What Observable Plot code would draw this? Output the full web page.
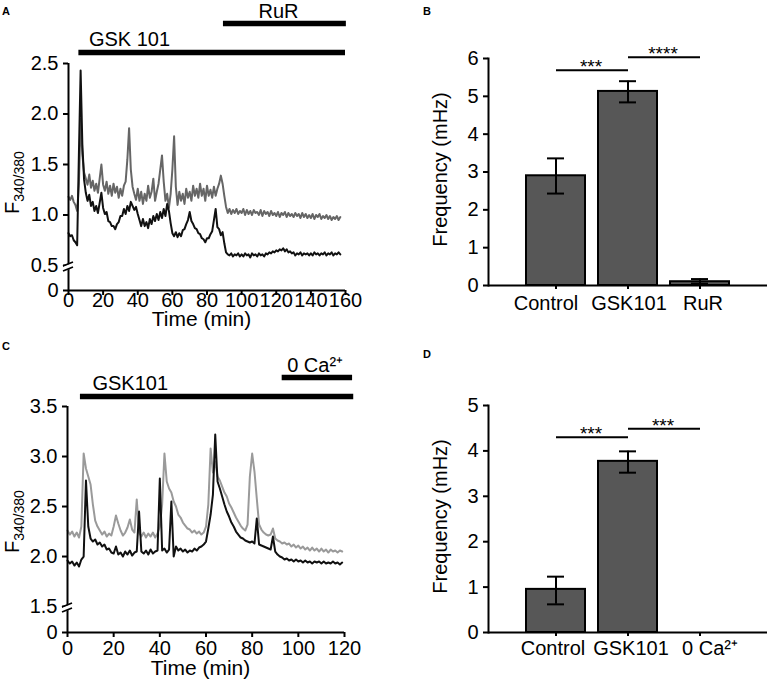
<!DOCTYPE html>
<html><head><meta charset="utf-8">
<script src="https://cdn.jsdelivr.net/npm/d3@7"></script>
<script src="https://cdn.jsdelivr.net/npm/@observablehq/plot@0.6"></script>
<style>
body{margin:0;background:#fff}
#fig{position:relative;width:768px;height:683px;overflow:hidden;background:#fff}
#fig svg{position:absolute;overflow:visible}
</style></head><body><div id="fig"></div>
<script>
const FONT = '"Liberation Sans", Arial, Helvetica, sans-serif';

// ---------- Panel A data ----------
const timeA = [0,1,2,3,4,5,6,7,8,9,10,11,12,13,14,15,16,17,18,19,20,21,22,23,24,25,26,27,28,29,30,31,32,33,34,35,36,37,38,39,40,41,42,43,44,45,46,47,48,49,50,51,52,53,54,55,56,57,58,59,60,61,62,63,64,65,66,67,68,69,70,71,72,73,74,75,76,77,78,79,80,81,82,83,84,85,86,87,88,89,90,91,92,93,94,95,96,97,98,99,100,101,102,103,104,105,106,107,108,109,110,111,112,113,114,115,116,117,118,119,120,121,122,123,124,125,126,127,128,129,130,131,132,133,134,135,136,137,138,139,140,141,142,143,144,145,146,147,148,149,150,151,152,153,154,155,156,157];
const greyA = [1.18,1.15,1.19,1.13,1.10,1.04,1.30,1.95,1.60,1.42,
1.36,1.30,1.40,1.27,1.34,1.24,1.31,1.22,1.36,1.50,
1.30,1.24,1.33,1.21,1.29,1.19,1.31,1.22,1.28,1.17,
1.26,1.19,1.29,1.33,1.55,1.86,1.45,1.28,1.21,1.15,
1.26,1.14,1.23,1.11,1.21,1.14,1.29,1.17,1.23,1.36,
1.14,1.23,1.31,1.45,1.59,1.33,1.14,1.21,1.07,1.21,
1.45,1.78,1.28,1.10,1.23,1.14,1.21,1.11,1.26,1.17,
1.23,1.14,1.29,1.19,1.26,1.17,1.31,1.19,1.26,1.14,
1.29,1.19,1.25,1.17,1.28,1.19,1.26,1.31,1.39,1.31,
1.19,1.08,1.02,1.06,1.01,1.05,1.02,1.06,1.01,1.04,
1.02,1.06,1.00,1.05,1.01,1.04,1.00,1.05,1.02,1.03,
1.00,1.05,0.99,1.04,1.01,1.03,0.99,1.04,1.00,1.02,
0.99,1.03,0.98,1.02,1.00,1.03,0.98,1.02,0.99,1.01,
0.98,1.02,0.99,1.01,0.97,1.02,0.98,1.01,0.97,1.00,
0.97,1.01,0.96,1.00,0.98,1.01,0.96,0.99,0.97,1.00,
0.96,0.99,0.95,0.98,0.96,0.99,0.95,0.98];
const blackA = [0.82,0.79,0.80,0.75,0.73,0.70,1.60,2.43,1.70,1.35,
1.22,1.14,1.20,1.09,1.13,1.04,1.09,1.02,1.12,1.22,
1.07,1.01,1.03,0.94,0.93,0.89,0.89,0.86,0.91,0.93,
0.99,0.99,1.06,1.01,1.09,1.04,1.13,1.09,1.05,1.08,
1.01,0.95,0.89,0.96,0.89,0.93,0.87,0.96,0.91,0.99,
0.94,1.01,0.95,1.03,0.97,1.06,0.99,1.11,1.04,0.92,
0.82,0.79,0.83,0.78,0.82,0.79,0.85,0.86,0.91,0.95,
1.03,0.94,0.91,0.87,0.86,0.82,0.81,0.77,0.76,0.73,
0.77,0.77,0.81,0.84,0.95,1.06,0.88,0.86,0.80,0.83,
0.72,0.63,0.61,0.60,0.62,0.59,0.61,0.60,0.62,0.59,
0.61,0.59,0.62,0.60,0.61,0.58,0.62,0.60,0.61,0.59,
0.62,0.60,0.61,0.59,0.62,0.61,0.63,0.62,0.64,0.63,
0.65,0.64,0.66,0.65,0.67,0.64,0.66,0.63,0.64,0.62,
0.63,0.60,0.62,0.61,0.63,0.60,0.62,0.61,0.62,0.60,
0.62,0.60,0.63,0.61,0.62,0.60,0.62,0.61,0.63,0.60,
0.62,0.61,0.63,0.60,0.62,0.61,0.63,0.61];
const xTicksA = [0,20,40,60,80,100,120,140,160];
const yTicksA = [0,0.5,1.0,1.5,2.0,2.5];
const yTickLabelsA = ["0","0.5","1.0","1.5","2.0","2.5"];
const treatA = [{name:"GSK 101", start:6, end:160}, {name:"RuR", start:89.5, end:160.5}];

// ---------- Panel B data ----------
const catsB = ["Control","GSK101","RuR"];
const meanB = [2.90, 5.13, 0.10];
const loB   = [2.43, 4.84, 0.05];
const hiB   = [3.36, 5.40, 0.17];
const yTicksB = [0,1,2,3,4,5,6];
const sigB = [{from:"Control", to:"GSK101", level:5.69, label:"***"}, {from:"GSK101", to:"RuR", level:6.03, label:"****"}];

// ---------- Panel C data ----------
const timeC = [0,1,2,3,4,5,6,7,8,9,10,11,12,13,14,15,16,17,18,19,20,21,22,23,24,25,26,27,28,29,30,31,32,33,34,35,36,37,38,39,40,41,42,43,44,45,46,47,48,49,50,51,52,53,54,55,56,57,58,59,60,61,62,63,64,65,66,67,68,69,70,71,72,73,74,75,76,77,78,79,80,81,82,83,84,85,86,87,88,89,90,91,92,93,94,95,96,97,98,99,100,101,102,103,104,105,106,107,108,109,110,111,112,113,114,115,116,117,118,119];
const greyC = [2.26,2.22,2.25,2.20,2.24,2.19,2.30,3.03,2.88,2.80,
2.72,2.52,2.36,2.30,2.26,2.22,2.25,2.20,2.23,2.21,
2.30,2.41,2.33,2.26,2.21,2.24,2.29,2.37,2.27,2.24,
2.57,2.24,2.20,2.24,2.19,2.23,2.20,2.24,2.19,2.23,
2.30,2.52,3.03,2.75,2.68,2.64,2.55,2.50,2.42,2.39,
2.34,2.31,2.28,2.27,2.24,2.26,2.23,2.25,2.22,2.24,
2.30,2.52,3.08,2.84,2.95,2.80,2.76,2.70,2.64,2.60,
2.53,2.49,2.44,2.39,2.35,2.31,2.28,2.26,2.32,2.80,
3.03,2.85,2.58,2.32,2.27,2.24,2.22,2.21,2.22,2.28,
2.18,2.16,2.15,2.13,2.14,2.12,2.13,2.10,2.12,2.09,
2.11,2.08,2.10,2.07,2.09,2.06,2.09,2.06,2.08,2.05,
2.08,2.05,2.07,2.04,2.07,2.05,2.06,2.04,2.06,2.05];
const blackC = [1.96,1.93,1.95,1.91,1.94,1.90,1.97,2.00,2.76,2.30,
2.18,2.15,2.17,2.12,2.14,2.10,2.12,2.07,2.08,2.04,
2.03,2.10,2.02,2.04,2.00,2.05,2.02,2.06,2.01,2.04,
2.05,2.45,2.05,2.03,2.06,2.02,2.07,2.03,2.05,2.06,
2.78,2.06,2.08,2.04,2.07,2.55,2.00,2.10,2.06,2.08,
2.05,2.07,2.04,2.06,2.05,2.08,2.06,2.09,2.10,2.12,
2.15,2.28,2.42,2.62,3.22,2.75,2.68,2.60,2.52,2.45,
2.40,2.34,2.30,2.25,2.22,2.19,2.18,2.16,2.15,2.14,
2.15,2.13,2.38,2.12,2.11,2.10,2.09,2.08,2.07,2.20,
2.05,2.02,2.00,1.99,1.97,1.98,1.96,1.97,1.95,1.97,
1.95,1.96,1.94,1.96,1.94,1.95,1.93,1.95,1.94,1.95,
1.93,1.95,1.93,1.94,1.93,1.95,1.93,1.94,1.92,1.94];
const xTicksC = [0,20,40,60,80,100,120];
const yTicksC = [0,1.5,2.0,2.5,3.0,3.5];
const yTickLabelsC = ["0","1.5","2.0","2.5","3.0","3.5"];
const treatC = [{name:"GSK101", start:5.6, end:124}, {name:"0 Ca²⁺", start:93, end:123.5}];

// ---------- Panel D data ----------
const catsD = ["Control","GSK101","0 Ca²⁺"];
const meanD = [0.95, 3.77, 0];
const loD   = [0.62, 3.52, 0];
const hiD   = [1.23, 3.99, 0];
const yTicksD = [0,1,2,3,4,5];
const sigD = [{from:"Control", to:"GSK101", level:4.30, label:"***"}, {from:"GSK101", to:"0 Ca²⁺", level:4.49, label:"***"}];

const fig = document.getElementById("fig");

function addText(svg, o) {
  const t = d3.select(svg).append("text")
    .attr("font-family", FONT).attr("fill", "black")
    .attr("font-size", o.size).attr("font-weight", o.weight || "normal")
    .attr("text-anchor", o.anchor || "start")
    .attr("transform", `translate(${o.x},${o.y})` + (o.rotate ? ` rotate(${o.rotate})` : ""));
  t.text(o.text);
  return t;
}
function fLabel(svg, x, y) {
  const t = d3.select(svg).append("text").attr("font-family", FONT).attr("fill", "black")
    .attr("text-anchor", "start")
    .attr("transform", `translate(${x},${y}) rotate(-90)`);
  t.append("tspan").attr("font-size", 20).text("F");
  t.append("tspan").attr("font-size", 14).attr("dy", 5).text("340/380");
}
function breakMark(svg, x, y) {
  const g = d3.select(svg).append("g");
  g.append("polygon").attr("points", `${x-4},${y+1} ${x+4},${y-2} ${x+4},${y+3} ${x-4},${y+6}`).attr("fill", "white");
  g.append("line").attr("x1", x-5).attr("y1", y+1).attr("x2", x+5).attr("y2", y-3).attr("stroke", "black").attr("stroke-width", 1.6);
  g.append("line").attr("x1", x-5).attr("y1", y+6).attr("x2", x+5).attr("y2", y+2).attr("stroke", "black").attr("stroke-width", 1.6);
}

function tracePanel(c) {
  const yTop = c.yMax;
  // broken axis: values below the break are compressed by the scale transform
  const squeeze = (v) => v >= c.breakAt ? v : c.breakAt - (c.breakAt - v) * c.squeeze;
  const plot = Plot.plot({
    width: c.width, height: c.height,
    marginLeft: c.mL, marginRight: c.mR, marginTop: c.mT, marginBottom: c.mB,
    style: {fontFamily: FONT, background: "transparent", color: "black", position: "absolute", left: c.left + "px", top: c.top + "px", overflow: "visible"},
    x: {domain: c.xDomain},
    y: {transform: squeeze, domain: [squeeze(0), c.yMax]},
    marks: [
      Plot.line(c.time, {x: c.time, y: c.grey, stroke: c.greyColor, strokeWidth: 2}),
      Plot.line(c.time, {x: c.time, y: c.black, stroke: "#111", strokeWidth: 2}),
      Plot.ruleY([0], {stroke: "black", strokeWidth: 2}),
      Plot.ruleX([0], {stroke: "black", strokeWidth: 2}),
      Plot.axisX(c.xTicks, {tickSize: 5, tickPadding: c.xPad, fontSize: 20, label: null, strokeWidth: 2}),
      Plot.axisY(c.yTicks, {tickSize: 5, tickPadding: 5, fontSize: 20, label: null, strokeWidth: 2, tickFormat: (d) => c.yLabels[c.yTicks.indexOf(d)]}),
      Plot.ruleY([c.treat[0]], {x1: "start", x2: "end", y: yTop, dy: c.bar1dy, stroke: "black", strokeWidth: 5.5}),
      Plot.ruleY([c.treat[1]], {x1: "start", x2: "end", y: yTop, dy: c.bar2dy, stroke: "black", strokeWidth: 5.5}),
      Plot.text([c.treat[0]], {x: "start", y: yTop, text: "name", textAnchor: "start", lineAnchor: "bottom", dx: c.t1dx, dy: c.bar1dy - 7, fontSize: 20, fill: "black"}),
      Plot.text([c.treat[1]], {x: "start", y: yTop, text: "name", textAnchor: "start", lineAnchor: "bottom", dx: c.t2dx, dy: c.bar2dy - 6, fontSize: 20, fill: "black"})
    ]
  });
  fig.appendChild(plot);
  const sx = plot.scale("x"), sy = plot.scale("y");
  breakMark(plot, sx.apply(0), sy.apply(c.breakAt));
  fLabel(plot, 19, c.fy);
  addText(plot, {x: (sx.apply(c.xDomain[0]) + sx.apply(c.xDomain[1])) / 2 - 5, y: c.timeY, text: "Time (min)", size: 21, anchor: "middle"});
  addText(plot, {x: 2, y: c.panelY, text: c.panel, size: 11, weight: "bold"});
  return plot;
}

function barPanel(c) {
  const rows = c.cats.map((cat, i) => ({cat, mean: c.mean[i], lo: c.lo[i], hi: c.hi[i]}));
  const err = rows.filter(d => d.hi > d.lo);
  const plot = Plot.plot({
    width: 388, height: c.height,
    marginLeft: 108, marginRight: 1, marginTop: c.mT, marginBottom: c.mB,
    style: {fontFamily: FONT, background: "transparent", color: "black", position: "absolute", left: "380px", top: c.top + "px", overflow: "visible"},
    x: {domain: c.cats, paddingInner: 0.178, paddingOuter: 0.5},
    y: {domain: [0, c.yTicks[c.yTicks.length - 1]]},
    marks: [
      Plot.barY(rows, {x: "cat", y: "mean", fill: "#575757", stroke: "black", strokeWidth: 2}),
      Plot.ruleX(err, {x: "cat", y1: "lo", y2: "hi", stroke: "black", strokeWidth: 2}),
      Plot.tickY(err, {x: "cat", y: "lo", insetLeft: 21, insetRight: 21, stroke: "black", strokeWidth: 2}),
      Plot.tickY(err, {x: "cat", y: "hi", insetLeft: 21, insetRight: 21, stroke: "black", strokeWidth: 2}),
      Plot.ruleY([0], {stroke: "black", strokeWidth: 2}),
      Plot.frame({anchor: "left", stroke: "black", strokeWidth: 2}),
      Plot.axisX(c.cats, {tickSize: 4, tickFormat: () => "", label: null, strokeWidth: 2}),
      Plot.axisX([c.cats[0]], {tickSize: 0, tickPadding: c.xPad, fontSize: 20, label: null, dx: c.dx[0]}),
      Plot.axisX([c.cats[1]], {tickSize: 0, tickPadding: c.xPad, fontSize: 20, label: null, dx: c.dx[1]}),
      Plot.axisX([c.cats[2]], {tickSize: 0, tickPadding: c.xPad, fontSize: 20, label: null, dx: c.dx[2]}),
      Plot.axisY(c.yTicks, {tickSize: 5, tickPadding: 5, fontSize: 20, label: null, strokeWidth: 2}),
      Plot.link(c.sig, {x1: "from", x2: "to", y1: "level", y2: "level", stroke: "black", strokeWidth: 2}),
      Plot.text(c.sig, {x: "from", y: "level", text: "label", dx: 35, dy: 3, fontSize: 19, lineAnchor: "bottom", fill: "black"})
    ]
  });
  fig.appendChild(plot);
  const sy = plot.scale("y");
  addText(plot, {x: 67, y: (sy.apply(0) + sy.apply(c.yTicks[c.yTicks.length - 1])) / 2 - 2, text: "Frequency (mHz)", size: 20, anchor: "middle", rotate: -90});
  addText(plot, {x: 43, y: c.panelY, text: c.panel, size: 11, weight: "bold"});
  return plot;
}

tracePanel({left: 0, top: 0, width: 370, height: 330, mL: 68, mR: 25, mT: 63, mB: 40,
  xDomain: [0, 160], xTicks: xTicksA, yMax: 2.5, breakAt: 0.5, squeeze: 0.495,
  yTicks: yTicksA, yLabels: yTickLabelsA, time: timeA, grey: greyA, black: blackA, greyColor: "#666",
  treat: treatA, bar1dy: -11, bar2dy: -40, t1dx: 10, t2dx: 35, xPad: -3, fy: 214, timeY: 326, panel: "A", panelY: 15});

barPanel({top: 0, height: 330, mT: 58, mB: 45, cats: catsB, mean: meanB, lo: loB, hi: hiB, yTicks: yTicksB, sig: sigB, xPad: 10, dx: [-10, 1, 3], panel: "B", panelY: 15});

tracePanel({left: 0, top: 330, width: 370, height: 353, mL: 67, mR: 26, mT: 76, mB: 51,
  xDomain: [0, 120], xTicks: xTicksC, yMax: 3.5, breakAt: 1.5, squeeze: 0.173,
  yTicks: yTicksC, yLabels: yTickLabelsC, time: timeC, grey: greyC, black: blackC, greyColor: "#9a9a9a",
  treat: treatC, bar1dy: -10, bar2dy: -29, t1dx: 12, t2dx: 5, xPad: 3, fy: 223, timeY: 345, panel: "C", panelY: 20});

barPanel({top: 330, height: 353, mT: 75, mB: 51, cats: catsD, mean: meanD, lo: loD, hi: hiD, yTicks: yTicksD, sig: sigD, xPad: 8, dx: [-3, 3, 10], panel: "D", panelY: 28});
</script></body></html>
